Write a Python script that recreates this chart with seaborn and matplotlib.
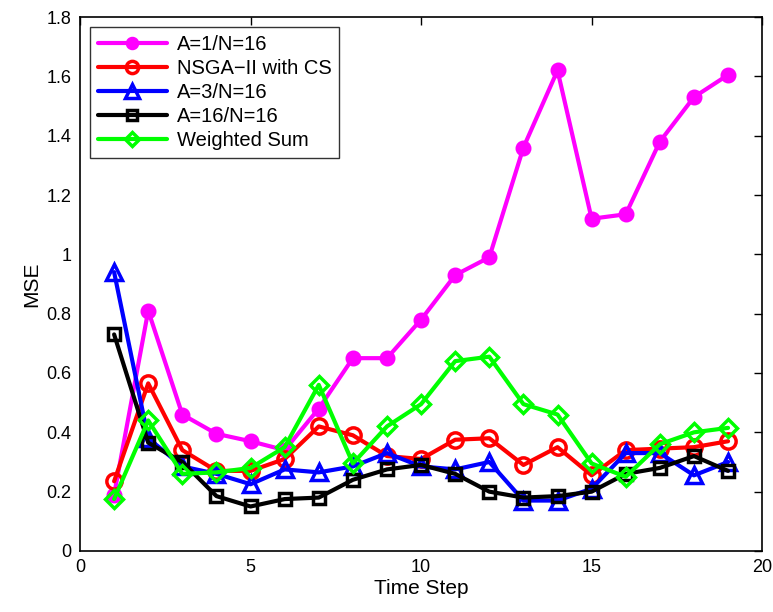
import numpy as np
import matplotlib
matplotlib.use('Agg')
import matplotlib.pyplot as plt
import seaborn as sns
from matplotlib.ticker import FuncFormatter

steps = list(range(1, 20))

a1_n16 = [0.19, 0.81, 0.46, 0.395, 0.37, 0.34, 0.48, 0.65, 0.65, 0.78,
          0.93, 0.99, 1.36, 1.62, 1.12, 1.135, 1.38, 1.53, 1.605]
nsga_cs = [0.235, 0.565, 0.34, 0.27, 0.27, 0.31, 0.42, 0.39, 0.32, 0.31,
           0.375, 0.38, 0.29, 0.35, 0.255, 0.34, 0.345, 0.35, 0.37]
a3_n16 = [0.94, 0.38, 0.285, 0.26, 0.225, 0.275, 0.265, 0.285, 0.33, 0.285,
          0.275, 0.30, 0.17, 0.17, 0.21, 0.33, 0.33, 0.255, 0.30]
a16_n16 = [0.73, 0.365, 0.30, 0.185, 0.15, 0.175, 0.18, 0.24, 0.275, 0.29,
           0.26, 0.20, 0.18, 0.185, 0.20, 0.26, 0.28, 0.32, 0.27]
weighted = [0.175, 0.44, 0.26, 0.265, 0.28, 0.35, 0.56, 0.295, 0.42, 0.495,
            0.64, 0.655, 0.495, 0.46, 0.295, 0.25, 0.36, 0.40, 0.415]

sns.set_style('white')
plt.rcParams['font.family'] = ['Liberation Sans', 'DejaVu Sans']
plt.rcParams['text.color'] = 'black'
plt.rcParams['axes.labelcolor'] = 'black'
plt.rcParams['xtick.color'] = 'black'
plt.rcParams['ytick.color'] = 'black'

fig = plt.figure(figsize=(7.73, 6.12), dpi=100)
ax = fig.add_axes([0.1035, 0.0997, 0.8825, 0.8725])

series = [
    ('A=1/N=16', a1_n16, '#ff00ff', 'o', '#ff00ff', 9),
    ('NSGA\u2212II with CS', nsga_cs, '#ff0000', 'o', 'none', 11),
    ('A=3/N=16', a3_n16, '#0000ff', '^', 'none', 12),
    ('A=16/N=16', a16_n16, '#000000', 's', 'none', 9),
    ('Weighted Sum', weighted, '#00ff00', 'D', 'none', 9),
]
for name, vals, col, mk, face, ms in series:
    sns.lineplot(x=steps, y=vals, ax=ax, color=col, marker=mk, lw=3,
                 markersize=ms, markerfacecolor=face, markeredgecolor=col,
                 markeredgewidth=2.5, label=name)

ax.set_xlim(0, 20)
ax.set_ylim(0, 1.8)
ax.set_xticks([0, 5, 10, 15, 20])
ax.set_yticks(np.arange(0, 1.81, 0.2))
ax.yaxis.set_major_formatter(FuncFormatter(lambda v, p: f'{v:g}'))
ax.tick_params(direction='in', top=True, right=True, length=6, width=1,
               labelsize=13, pad=6, colors='black')
for sp in ax.spines.values():
    sp.set_visible(True)
    sp.set_color('black')
    sp.set_linewidth(1.2)
ax.set_xlabel('Time Step', fontsize=15, labelpad=2)
ax.set_ylabel('MSE', fontsize=15)

leg = ax.legend(loc='upper left', fontsize=14.5, frameon=True, fancybox=False,
                edgecolor='black', handlelength=3.4, borderaxespad=0.5,
                labelspacing=0.25, markerscale=0.8, handletextpad=0.5)
leg.get_frame().set_linewidth(1.0)

fig.savefig('out.png', dpi=100)
